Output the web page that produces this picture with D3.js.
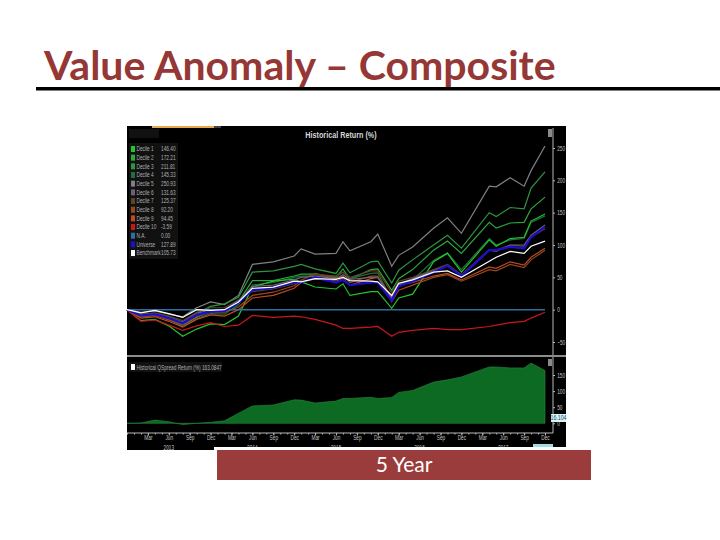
<!DOCTYPE html>
<html>
<head>
<meta charset="UTF-8">
<title>Value Anomaly</title>
<style>
    html, body { margin: 0; padding: 0; background: #fff; }
    svg { display: block; }
    text { font-family: 'Liberation Sans', sans-serif; }
    .slide-text { font-family: Lato, sans-serif; }
    .axis path, .axis line { stroke: #b8b8b8; }
    .axis text { fill: #c4c4c4; font-size: 7px; font-family: 'Liberation Sans', sans-serif; }
</style>
</head>
<body>
<script src="https://d3js.org/d3.v7.min.js"></script>
<script>
// months since Dec 2012, shared by all the series
const months = [0,2,4,6,8,10,12,14,16,18,21,24,25,27,30,31,32,35,36,38,39,41,44,46,48,52,53,55,57,58,60];

const decile1 = [0,-17,-15,-25,-41,-30,-22,-23,-10,35,44,47,43,35,32,40,22,28,28,2,18,24,74,87,58,108,98,110,112,137,148];
const decile2 = [0,-10,-8,-15,-24,-12,-2,-2,12,45,45,52,55,55,50,63,47,62,63,30,48,62,92,106,87,135,126,134,135,156,174];
const decile3 = [0,-8,-6,-12,-20,-6,5,9,19,58,60,67,70,63,56,72,57,74,75,41,61,77,100,115,95,150,144,158,156,188,213];
const decile4 = [0,-11,-9,-15,-26,-14,-6,-7,8,38,42,50,52,52,52,58,48,56,57,15,38,46,76,88,62,110,100,108,110,135,145];
const decile5 = [0,-4,-2,-7,-11,3,12,8,22,70,74,83,94,86,87,105,91,105,117,67,84,97,126,142,118,191,190,204,191,215,253];
const decile6 = [0,-8,-6,-12,-19,-6,0,0,14,36,38,46,50,52,48,54,47,50,50,18,40,48,60,68,52,92,90,100,100,115,131];
const decile7 = [0,-7,-5,-10,-17,-4,3,3,15,28,32,40,46,55,52,58,50,60,60,26,44,50,62,70,54,93,92,100,98,112,125];
const decile8 = [0,-11,-9,-16,-23,-11,-4,-4,4,22,27,37,45,56,48,52,42,52,52,12,30,38,50,54,44,62,60,70,65,77,92];
const decile9 = [0,-13,-11,-18,-27,-15,-8,-10,0,18,22,33,42,48,44,48,38,48,50,20,38,42,52,56,46,66,64,74,69,81,95];
const decile10 = [0,-18,-16,-24,-32,-25,-20,-26,-24,-9,-12,-10,-11,-15,-24,-29,-29,-27,-26,-41,-35,-32,-29,-31,-31,-26,-24,-20,-18,-13,-4];
const notAvailable = months.map(() => 0);
const universe = [0,-9,-7,-13,-21,-8,-3,-2,11,30,34,42,42,50,42,46,38,42,42,14,36,44,58,68,52,92,92,97,95,112,128];
const benchmark = [0,-5,-1,-6,-12,0,-1,0,12,33,35,44,43,48,47,50,45,44,43,22,41,46,58,60,50,75,81,90,87,98,106];
const spread = [0,1,10,5,-4,0,3,8,31,54,57,73,72,63,69,77,77,81,77,80,96,102,128,135,144,175,175,172,172,187,164];

const legendNames = ['Decile 1','Decile 2','Decile 3','Decile 4','Decile 5','Decile 6','Decile 7','Decile 8','Decile 9','Decile 10','N.A.','Universe','Benchmark'];
const legendValues = ['146.40','172.21','211.81','145.33','250.93','131.63','125.37','92.20','94.45','-3.59','0.00','127.89','105.73'];
const seriesColors = ['#24c42c','#2ea83a','#2f9440','#1f6f40','#808080','#6b6079','#5f4220','#98481f','#bd4a20','#c8181c','#2a70a0','#1a10cc','#ffffff'];
const allSeries = [decile1,decile2,decile3,decile4,decile5,decile6,decile7,decile8,decile9,decile10,notAvailable,universe,benchmark];

const returnTicks = [-50,0,50,100,150,200,250];
const spreadTicks = [0,50,100,150];
const quarterTicks = [3,6,9,12,15,18,21,24,27,30,33,36,39,42,45,48,51,54,57,60];
const quarterLabels = ['Mar','Jun','Sep','Dec'];
const years = [{ m: 6, label: '2013' }, { m: 18, label: '2014' }, { m: 30, label: '2015' }, { m: 42, label: '2016' }, { m: 54, label: '2017' }];

// terminal font is condensed and no narrow face is installed, so squeeze the text
const squeeze = 0.68;

const svg = d3.select('body').append('svg').attr('width', 720).attr('height', 540);

// soft edge, the screenshot in the slide is a low res jpeg
svg.append('defs').append('filter').attr('id', 'soft')
    .append('feGaussianBlur').attr('stdDeviation', 0.35);

// slide title
svg.append('text')
    .attr('class', 'slide-text')
    .attr('x', 44).attr('y', 80)
    .attr('font-size', 41).attr('font-weight', 700)
    .attr('fill', '#953735')
    .text('Value Anomaly – Composite');

svg.append('rect').attr('x', 36).attr('y', 87).attr('width', 684).attr('height', 3.5).attr('fill', '#000');

// terminal screenshot background
svg.append('rect').attr('x', 127).attr('y', 126).attr('width', 439).attr('height', 324).attr('fill', '#000');
svg.append('rect').attr('x', 152).attr('y', 126).attr('width', 62).attr('height', 2).attr('fill', '#e8a850');
svg.append('rect').attr('x', 214).attr('y', 126).attr('width', 7).attr('height', 2).attr('fill', '#444');

const x = d3.scaleLinear().domain([0, 60]).range([127, 545]);
const y = d3.scaleLinear().domain([-50, 250]).range([342, 148]);
const ySpread = d3.scaleLinear().domain([0, 150]).range([423.3, 375]);

const line = d3.line().x((d, i) => x(months[i])).y(d => y(d));

// draw order, benchmark and universe stay on top of the bundle
const drawOrder = [4,2,1,3,0,8,7,6,5,9,10,11,12];
svg.append('g').attr('filter', 'url(#soft)')
    .selectAll('path')
    .data(drawOrder)
    .enter()
    .append('path')
    .attr('d', i => line(allSeries[i]))
    .attr('fill', 'none')
    .attr('stroke', i => seriesColors[i])
    .attr('stroke-width', i => i === 11 ? 2.2 : (i === 10 ? 1.5 : 1.2));

// upper y axis
svg.append('g')
    .attr('class', 'axis')
    .attr('transform', 'translate(553,0)')
    .call(d3.axisRight(y).tickValues(returnTicks).tickSize(2).tickPadding(2))
    .call(g => g.select('.domain').attr('d', 'M0,128V355'))
    .call(g => g.selectAll('text').attr('transform', `translate(1.5,0) scale(${squeeze},1)`));

// separator between the panels
svg.append('rect').attr('x', 127).attr('y', 355).attr('width', 439).attr('height', 2).attr('fill', '#8c8c8c');

// lower panel
const area = d3.area().x((d, i) => x(months[i])).y0(ySpread(0)).y1(d => ySpread(d));
svg.append('path')
    .attr('d', area(spread))
    .attr('fill', '#096a20')
    .attr('stroke', '#2f8a40')
    .attr('stroke-width', 0.6)
    .attr('filter', 'url(#soft)');

svg.append('g')
    .attr('class', 'axis')
    .attr('transform', 'translate(553,0)')
    .call(d3.axisRight(ySpread).tickValues(spreadTicks).tickSize(2).tickPadding(2))
    .call(g => g.select('.domain').attr('d', 'M0,357V433'))
    .call(g => g.selectAll('text').attr('transform', `translate(1.5,0) scale(${squeeze},1)`));

// x axis, monthly minor ticks then labelled quarters
svg.append('g')
    .attr('class', 'axis')
    .attr('transform', 'translate(0,433)')
    .call(d3.axisBottom(x).tickValues(d3.range(0, 61)).tickSize(1.5).tickFormat(''))
    .call(g => g.select('.domain').attr('d', 'M0,0H426').attr('transform', 'translate(127,0)'));

svg.append('g')
    .attr('class', 'axis')
    .attr('transform', 'translate(0,433)')
    .call(d3.axisBottom(x).tickValues(quarterTicks).tickSize(2.5).tickPadding(0)
        .tickFormat((d, i) => quarterLabels[i % 4]))
    .call(g => g.select('.domain').remove())
    .call(g => g.selectAll('text').attr('transform', `scale(${squeeze},1)`));

svg.append('g').selectAll('text')
    .data(years)
    .enter()
    .append('text')
    .attr('transform', d => `translate(${x(d.m)},449.5) scale(${squeeze},1)`)
    .attr('text-anchor', 'middle')
    .attr('font-size', 7)
    .attr('fill', '#c4c4c4')
    .text(d => d.label);

// chart title and toolbar
svg.append('text')
    .attr('transform', 'translate(341,138) scale(0.85,1)')
    .attr('text-anchor', 'middle')
    .attr('font-size', 8.5).attr('font-weight', 700)
    .attr('fill', '#d8d8d8')
    .text('Historical Return (%)');

svg.append('rect').attr('x', 129).attr('y', 129).attr('width', 30).attr('height', 9).attr('fill', '#111');
svg.append('rect').attr('x', 548).attr('y', 129).attr('width', 4).attr('height', 8).attr('fill', '#8a8a8a');
svg.append('rect').attr('x', 548).attr('y', 359).attr('width', 4).attr('height', 7).attr('fill', '#8a8a8a');

// legend
svg.append('rect').attr('x', 129).attr('y', 143).attr('width', 49).attr('height', 116).attr('fill', '#111');
const legend = svg.append('g').selectAll('g')
    .data(legendNames)
    .enter()
    .append('g')
    .attr('transform', (d, i) => `translate(0,${149 + i * 8.67})`);

legend.append('rect')
    .attr('x', 131).attr('y', -3).attr('width', 4).attr('height', 6)
    .attr('fill', (d, i) => seriesColors[i]);
legend.append('text')
    .attr('transform', `translate(136.5,2.4) scale(${squeeze},1)`)
    .attr('font-size', 7).attr('fill', '#b0b0b0')
    .text(d => d);
legend.append('text')
    .attr('transform', `translate(161,2.4) scale(${squeeze},1)`)
    .attr('font-size', 7).attr('fill', '#b0b0b0')
    .text((d, i) => legendValues[i]);

// lower legend
svg.append('rect').attr('x', 129).attr('y', 362).attr('width', 93).attr('height', 10).attr('fill', '#111');
svg.append('rect').attr('x', 131).attr('y', 364).attr('width', 4).attr('height', 6).attr('fill', '#fff');
svg.append('text')
    .attr('transform', `translate(136.5,369.5) scale(${squeeze},1)`)
    .attr('font-size', 7).attr('fill', '#b0b0b0')
    .text('Historical QSpread Return (%) 163.0847');

// last value tags
svg.append('rect').attr('x', 551).attr('y', 414).attr('width', 15).attr('height', 8).attr('fill', '#d8f2f6');
svg.append('text')
    .attr('transform', 'translate(558.5,420.4) scale(0.75,1)')
    .attr('text-anchor', 'middle')
    .attr('font-size', 7).attr('fill', '#15505e')
    .text('16.104');
svg.append('rect').attr('x', 533).attr('y', 444).attr('width', 20).attr('height', 3).attr('fill', '#9fdce6');

// white edge of the caption box covers the bottom of the screenshot
svg.append('rect').attr('x', 214).attr('y', 447).attr('width', 352).attr('height', 3).attr('fill', '#fff');

svg.append('rect').attr('x', 217).attr('y', 450).attr('width', 374).attr('height', 30).attr('fill', '#9b3c3c');
svg.append('text')
    .attr('class', 'slide-text')
    .attr('x', 404).attr('y', 472)
    .attr('text-anchor', 'middle')
    .attr('font-size', 21)
    .attr('fill', '#fff')
    .text('5 Year');
</script>
</body>
</html>
